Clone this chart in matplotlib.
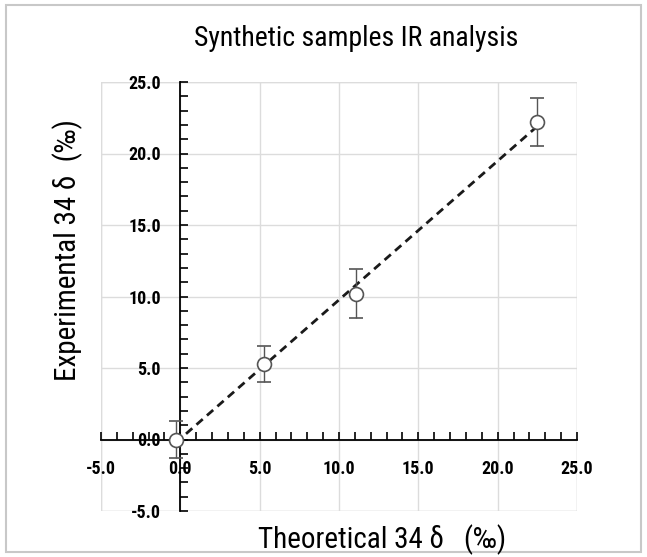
import numpy as np
import matplotlib
matplotlib.use("Agg")
import matplotlib.pyplot as plt
from matplotlib.patches import Rectangle
from matplotlib.ticker import MultipleLocator, FormatStrFormatter

# data
theoretical = [-0.3, 5.3, 11.1, 22.5]
experimental = [0.0, 5.3, 10.2, 22.2]
err = [1.3, 1.25, 1.7, 1.65]

title = "Synthetic samples IR analysis"
xlabel = "Theoretical 34 δ   (‰)"
ylabel = "Experimental 34 δ  (‰)"

plt.rcParams["font.family"] = ["Roboto Condensed", "Archivo Narrow", "DejaVu Sans"]

fig = plt.figure(figsize=(6.47, 5.57), dpi=100)
ax = fig.add_axes([101 / 647, 1 - 511 / 557, 476 / 647, 429 / 557])

# outer border of the figure
fig.patches.append(Rectangle((6 / 647, 5 / 557), 635 / 647, 547 / 557,
                             transform=fig.transFigure, fill=False,
                             edgecolor="#c8c8c8", linewidth=1.5))

ax.set_xlim(-5, 25)
ax.set_ylim(-5, 25)
ax.xaxis.set_major_locator(MultipleLocator(5))
ax.yaxis.set_major_locator(MultipleLocator(5))
ax.xaxis.set_minor_locator(MultipleLocator(1))
ax.yaxis.set_minor_locator(MultipleLocator(1))
ax.xaxis.set_major_formatter(FormatStrFormatter("%.1f"))
ax.yaxis.set_major_formatter(FormatStrFormatter("%.1f"))
ax.grid(True, which="major", color="#dcdcdc", linewidth=1.0)
ax.set_axisbelow(True)

for s in ["top", "right"]:
    ax.spines[s].set_visible(False)
ax.spines["left"].set_position(("data", 0))
ax.spines["bottom"].set_position(("data", 0))
ax.spines["left"].set_linewidth(1.3)
ax.spines["bottom"].set_linewidth(1.3)
ax.add_patch(Rectangle((0, 0), 1, 1, transform=ax.transAxes, fill=False,
                       edgecolor="#dcdcdc", linewidth=1.0, zorder=0))

ax.tick_params(axis="x", which="both", direction="in", length=6, width=1.2,
               labelsize=13, pad=15)
ax.tick_params(axis="y", which="both", direction="in", length=6, width=1.2,
               labelsize=13, pad=14)
for lab in ax.get_xticklabels() + ax.get_yticklabels():
    lab.set_fontweight("bold")

# fitted dashed line
k, b = np.polyfit(theoretical, experimental, 1)
xs = np.array([min(theoretical), max(theoretical)])
ax.plot(xs, k * xs + b, linestyle=(0, (3, 2)), color="#1a1a1a",
        linewidth=2.0, zorder=3)

ax.errorbar(theoretical, experimental, yerr=err, fmt="o", markersize=10,
            markerfacecolor="white", markeredgecolor="#555555",
            markeredgewidth=1.2, ecolor="#555555", elinewidth=1.0,
            capsize=5, capthick=1.0, zorder=4)

fig.text(356 / 647, 1 - 38 / 557, title, ha="center", va="center",
         fontsize=20)
fig.text(382 / 647, 1 - 540 / 557, xlabel, ha="center", va="center",
         fontsize=21)
fig.text(68 / 647, 1 - 250 / 557, ylabel, ha="center", va="center",
         fontsize=21, rotation=90)

fig.savefig("out.png", dpi=100)
